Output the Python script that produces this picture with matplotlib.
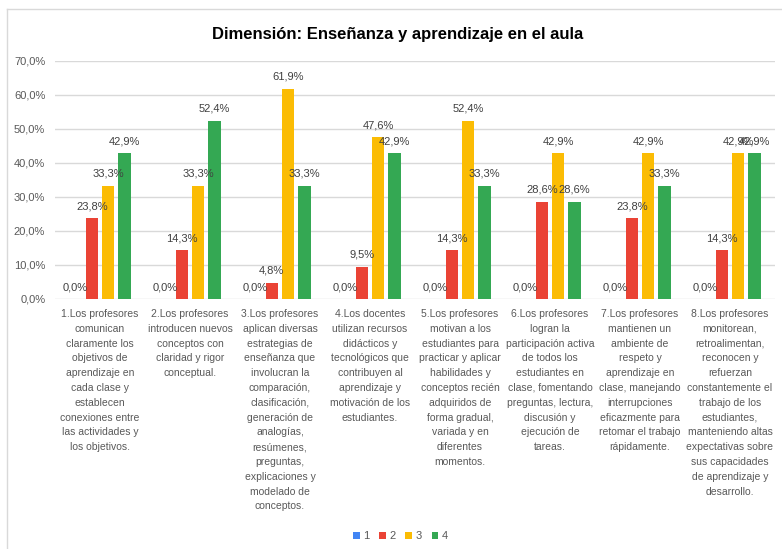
import matplotlib
matplotlib.use("Agg")
import matplotlib.pyplot as plt
from matplotlib.patches import Patch
from matplotlib.lines import Line2D
import numpy as np

plt.rcParams['font.family'] = ['Liberation Sans', 'DejaVu Sans']

# Data
categories = [
    "1.Los profesores\ncomunican\nclaramente los\nobjetivos de\naprendizaje en\ncada clase y\nestablecen\nconexiones entre\nlas actividades y\nlos objetivos.",
    "2.Los profesores\nintroducen nuevos\nconceptos con\nclaridad y rigor\nconceptual.",
    "3.Los profesores\naplican diversas\nestrategias de\nenseñanza que\ninvolucran la\ncomparación,\nclasificación,\ngeneración de\nanalogías,\nresúmenes,\npreguntas,\nexplicaciones y\nmodelado de\nconceptos.",
    "4.Los docentes\nutilizan recursos\ndidácticos y\ntecnológicos que\ncontribuyen al\naprendizaje y\nmotivación de los\nestudiantes.",
    "5.Los profesores\nmotivan a los\nestudiantes para\npracticar y aplicar\nhabilidades y\nconceptos recién\nadquiridos de\nforma gradual,\nvariada y en\ndiferentes\nmomentos.",
    "6.Los profesores\nlogran la\nparticipación activa\nde todos los\nestudiantes en\nclase, fomentando\npreguntas, lectura,\ndiscusión y\nejecución de\ntareas.",
    "7.Los profesores\nmantienen un\nambiente de\nrespeto y\naprendizaje en\nclase, manejando\ninterrupciones\neficazmente para\nretomar el trabajo\nrápidamente.",
    "8.Los profesores\nmonitorean,\nretroalimentan,\nreconocen y\nrefuerzan\nconstantemente el\ntrabajo de los\nestudiantes,\nmanteniendo altas\nexpectativas sobre\nsus capacidades\nde aprendizaje y\ndesarrollo.",
]
series_names = ["1", "2", "3", "4"]
s1 = [0.0, 0.0, 0.0, 0.0, 0.0, 0.0, 0.0, 0.0]
s2 = [23.8, 14.3, 4.8, 9.5, 14.3, 28.6, 23.8, 14.3]
s3 = [33.3, 33.3, 61.9, 47.6, 52.4, 42.9, 42.9, 42.9]
s4 = [42.9, 52.4, 33.3, 42.9, 33.3, 28.6, 33.3, 42.9]
colors = ["#4285F4", "#EA4335", "#FBBC04", "#34A853"]

fig = plt.figure(figsize=(7.82, 5.49), dpi=100)
ax = fig.add_axes([55 / 782, 1 - 299 / 549, 720 / 782, 238 / 549])

x = np.arange(len(categories))
step = 0.181
width = 0.139
for k, (vals, c) in enumerate(zip([s1, s2, s3, s4], colors)):
    pos = x + (k - 1.5) * step
    ax.bar(pos, vals, width=width, color=c, zorder=3)
    for p, v in zip(pos, vals):
        ax.annotate(f"{v:.1f}%".replace(".", ","), (p, v), xytext=(0, 5),
                    textcoords="offset points", ha="center", va="bottom",
                    fontsize=8, color="#404040", zorder=4)

ax.set_xlim(-0.5, len(categories) - 0.5)
ax.set_ylim(0, 70)
ax.set_yticks(np.arange(0, 71, 10))
ax.set_yticklabels([f"{t:.1f}%".replace(".", ",") for t in np.arange(0, 71, 10)],
                   fontsize=8, color="#595959")
ax.tick_params(axis="y", length=0, pad=7)
ax.set_xticks([])
ax.grid(axis="y", color="#D9D9D9", linewidth=1, zorder=0)
for s in ax.spines.values():
    s.set_visible(False)

for i, lab in enumerate(categories):
    ax.text(i, -0.042, lab, transform=ax.get_xaxis_transform(), ha="center", va="top",
            fontsize=7.5, color="#595959", linespacing=1.6)

fig.text(0.509, 0.937, "Dimensión: Enseñanza y aprendizaje en el aula", ha="center",
         va="center", fontsize=12, fontweight="bold", color="#000000")

handles = [Patch(facecolor=c, edgecolor="none") for c in colors]
fig.legend(handles, series_names, loc="center", bbox_to_anchor=(0.512, 1 - 536 / 549),
           ncol=4, frameon=False, fontsize=8, handlelength=0.6, handleheight=0.6,
           handletextpad=0.3, columnspacing=0.9, labelcolor="#595959")

# chart frame
fig.add_artist(Line2D([7 / 782, 7 / 782], [0, 1 - 9 / 549], color="#D9D9D9", lw=1))
fig.add_artist(Line2D([7 / 782, 1], [1 - 9 / 549, 1 - 9 / 549], color="#D9D9D9", lw=1))

fig.savefig("out.png", dpi=100)
